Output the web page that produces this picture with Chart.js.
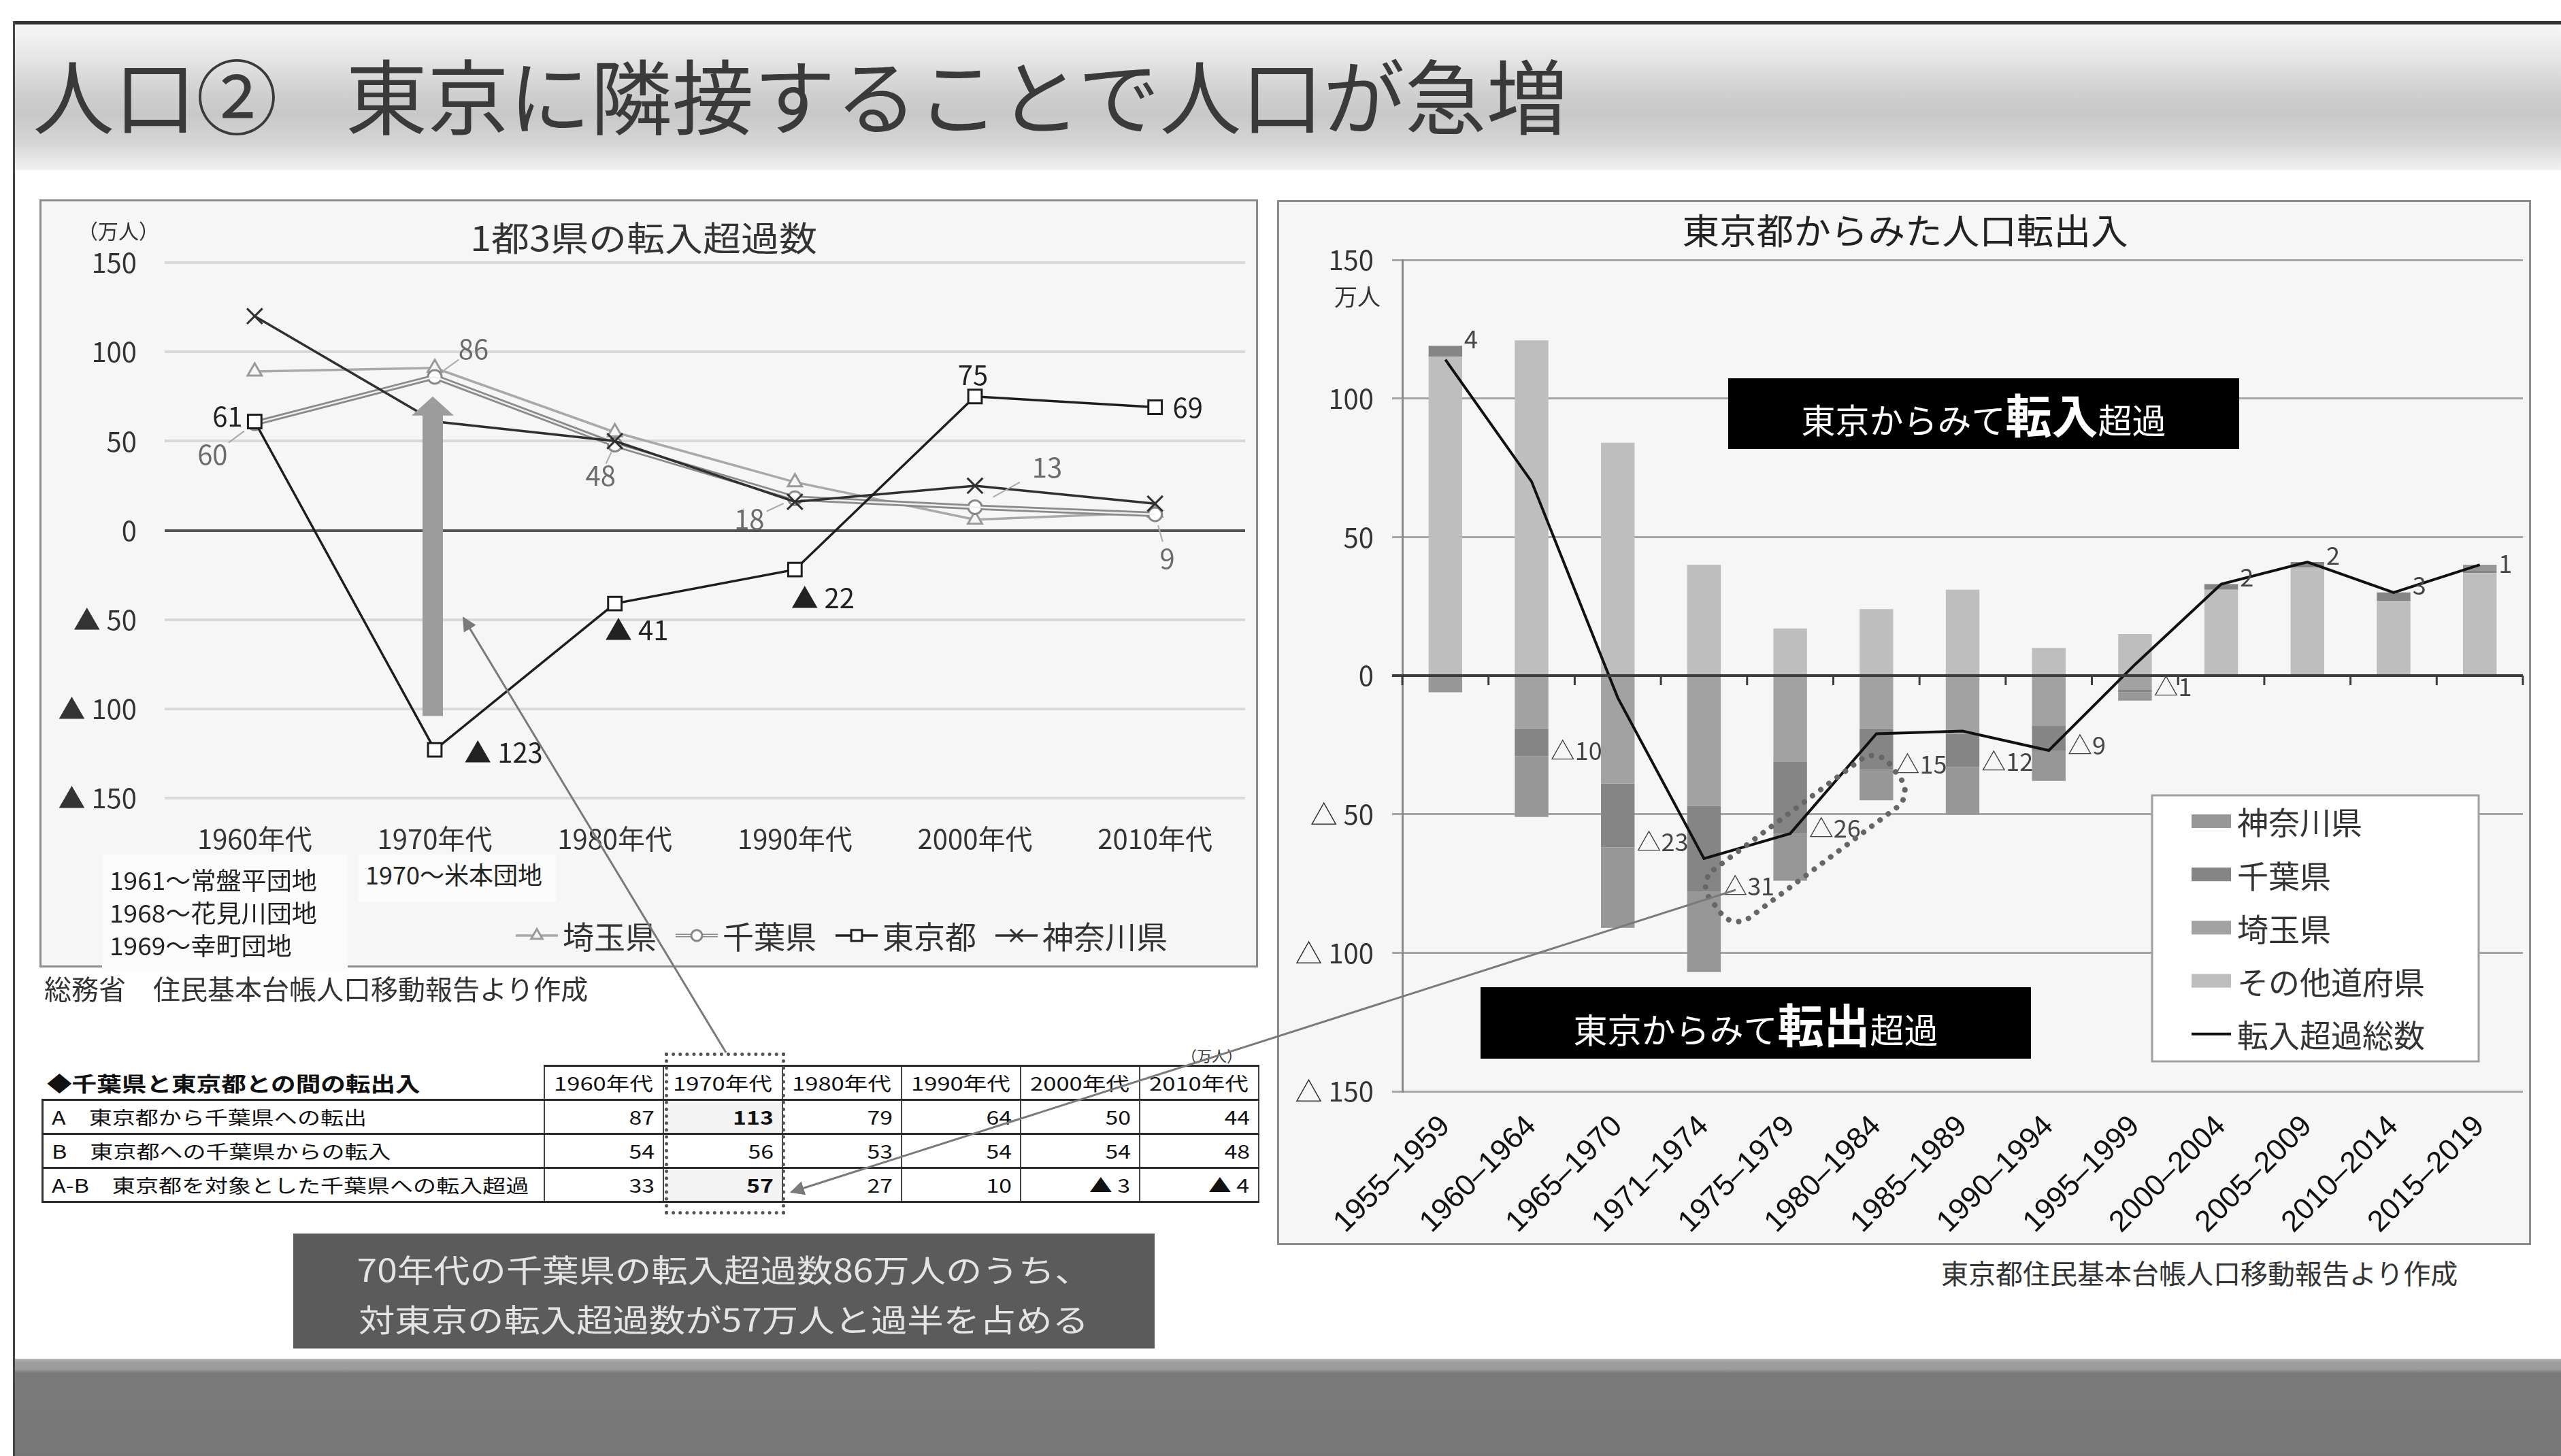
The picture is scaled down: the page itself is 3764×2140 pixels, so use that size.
<!DOCTYPE html>
<html lang="ja">
<head>
<meta charset="utf-8">
<title>人口② 東京に隣接することで人口が急増</title>
<script src="https://cdn.jsdelivr.net/npm/chart.js@4.4.1/dist/chart.umd.min.js"></script>
<style>
  html, body { margin: 0; padding: 0; background: #fff; }
  body { position: relative; width: 3764px; height: 2140px; overflow: hidden;
         font-family: 'Noto Sans CJK JP', sans-serif; color: #333; }
  .abs { position: absolute; white-space: nowrap; }
  .topline { left: 20px; top: 31px; width: 3744px; height: 5px; background: #333; }
  .header { left: 22px; top: 36px; width: 3742px; height: 214px;
            background: linear-gradient(to bottom, #f7f7f7 0%, #e6e6e6 22%, #cfcfcf 48%, #c8c8c8 62%, #d6d6d6 82%, #f2f2f2 100%); }
  .vline { left: 19px; top: 31px; width: 3px; height: 2109px; background: #444; }
  .footer { left: 22px; top: 1997px; width: 3742px; height: 143px;
            background: linear-gradient(to bottom, #b8b8b8 0px, #9e9e9e 5px, #9c9c9c 15px, #7a7a7a 21px, #777 100%); }
  .title { left: 48px; top: 67px; font-size: 120px; line-height: 140px; font-weight: 400; color: #3a3a3a; }
  .panel { background: #f6f6f6; }
  .panel canvas { position: absolute; left: 0; top: 0; }
  .frame { box-sizing: border-box; border: 3px solid #8c8c8c; pointer-events: none; }
  .sx { display: inline-block; }
  .note { background: #fbfbfb; font-size: 36px; line-height: 48px; color: #222; }
  .blackbox { background: #000; color: #fff; text-align: center; }
  .blackbox b { font-size: 68px; font-weight: 700; }
  .blackbox span { font-size: 50px; }
  #chibaTable { border-collapse: collapse; table-layout: fixed; background: #fff; }
  #chibaTable td { height: 47px; padding: 0 12px; font-size: 27px; color: #111; overflow: visible; white-space: nowrap; }
  #chibaTable td.num { text-align: right; border-left: 2px solid #444; border-right: 2px solid #444; }
  #chibaTable td.num .sx { transform: scaleX(1.25); transform-origin: right center; }
  #chibaTable td.lab { border-left: 3px solid #333; }
  #chibaTable td.lab .sx { transform: scaleX(1.26); transform-origin: left center; }
  #chibaTable tr td { border-bottom: 3px solid #2a2a2a; }
  #chibaTable tr.head td.num { border-top: 3px solid #2a2a2a; text-align: center; }
  #chibaTable tr.head td.num .sx { transform: scaleX(1.28); transform-origin: center center; }
  #chibaTable tr.head td.cap { border-left: none; font-weight: 700; font-size: 30px; padding-left: 6px; }
  #chibaTable tr.head td.cap .sx { transform: scaleX(1.22); transform-origin: left center; }
  #chibaTable td.hl { background: #f3f3f3; font-weight: 700; }
  .callout { background: #5b5b5b; color: #e4e4e4; font-size: 46px; line-height: 73px; text-align: center; }
  .callout .sx { transform: scaleX(1.16); }
</style>
</head>
<body>

<div class="abs topline"></div>
<div class="abs header"></div>
<div class="abs title"><span>人口②</span><span style="margin-left:100px">東京に隣接することで人口が急増</span></div>

<!-- 左：1都3県の転入超過数 -->
<div class="abs panel" style="left:58px;top:293px;width:1791px;height:1129px">
  <canvas id="leftChart" width="1791" height="1129"></canvas>
</div>
<div class="abs frame" style="left:58px;top:293px;width:1791px;height:1129px"></div>
<div class="abs" style="left:946px;top:317px;font-size:50px;line-height:60px;transform:translateX(-50%) scaleX(1.12)">1都3県の転入超過数</div>
<div class="abs" style="left:114px;top:320px;font-size:30px;line-height:36px">（万人）</div>
<div class="abs note" style="left:150px;top:1256px;width:361px;height:172px">
  <div style="padding:12px 0 0 11px"><span class="sx" style="transform:scaleX(1.03);transform-origin:left center">1961～常盤平団地<br>1968～花見川団地<br>1969～幸町団地</span></div>
</div>
<div class="abs note" style="left:526px;top:1256px;width:292px;height:69px">
  <div style="padding:4px 0 0 11px">1970～米本団地</div>
</div>
<div class="abs" style="left:65px;top:1428px;font-size:40px;line-height:48px">総務省　住民基本台帳人口移動報告より作成</div>

<!-- 千葉県と東京都との間の転出入 -->
<div class="abs" style="left:1737px;top:1537px;font-size:22px;line-height:26px">（万人）</div>
<table id="chibaTable" class="abs" style="left:61px;top:1565px;width:1787px"></table>
<div class="abs" style="left:977px;top:1547px;width:177px;height:238px;box-sizing:border-box;border:5px dotted #555"></div>

<div class="abs callout" style="left:431px;top:1813px;width:1266px;height:169px">
  <div style="padding-top:15px"><span class="sx">70年代の千葉県の転入超過数86万人のうち、</span><br><span class="sx">対東京の転入超過数が57万人と過半を占める</span></div>
</div>

<!-- 右：東京都からみた人口転出入 -->
<div class="abs panel" style="left:1877px;top:294px;width:1843px;height:1536px">
  <canvas id="rightChart" width="1843" height="1536"></canvas>
</div>
<div class="abs frame" style="left:1877px;top:294px;width:1843px;height:1536px"></div>
<div class="abs" style="left:2800px;top:307px;font-size:52px;line-height:60px;color:#222;transform:translateX(-50%) scaleX(1.05)">東京都からみた人口転出入</div>
<div class="abs" style="left:1961px;top:415px;font-size:34px;line-height:40px">万人</div>
<div class="abs blackbox" style="left:2540px;top:556px;width:751px;height:104px;line-height:104px"><span>東京からみて</span><b>転入</b><span>超過</span></div>
<div class="abs blackbox" style="left:2176px;top:1451px;width:809px;height:105px;line-height:105px"><span>東京からみて</span><b>転出</b><span>超過</span></div>
<div class="abs" style="left:2853px;top:1846px;font-size:40px;line-height:48px">東京都住民基本台帳人口移動報告より作成</div>

<div class="abs footer"></div>
<div class="abs vline"></div>

<svg class="abs" style="left:0;top:0;pointer-events:none" width="3764" height="2140">
  <defs>
    <marker id="ah" viewBox="0 0 10 10" refX="9" refY="5" markerWidth="7" markerHeight="7" orient="auto">
      <path d="M0,0 L10,5 L0,10 z" fill="#7a7a7a"/>
    </marker>
  </defs>
  <line x1="1067" y1="1547" x2="681" y2="908" stroke="#7a7a7a" stroke-width="3" marker-end="url(#ah)"/>
  <line x1="2551" y1="1308" x2="1163" y2="1752" stroke="#7a7a7a" stroke-width="3" marker-end="url(#ah)"/>
</svg>

<script>
// 1都3県の転入超過数（万人、年代別）
const DECADES = ['1960年代', '1970年代', '1980年代', '1990年代', '2000年代', '2010年代'];
const SAITAMA = [89, 91, 55, 27, 6, 10];
const CHIBA = [60, 86, 48, 18, 13, 9];
const TOKYO = [61, -123, -41, -22, 75, 69];
const KANAGAWA = [120, 61, 50, 16, 25, 15];

// 千葉県と東京都との間の転出入（万人）
const OUT_TO_CHIBA = [87, 113, 79, 64, 50, 44];
const IN_FROM_CHIBA = [54, 56, 53, 54, 54, 48];
const NET_TO_CHIBA = [33, 57, 27, 10, -3, -4];
const ROW_LABELS = ['A　東京都から千葉県への転出', 'B　東京都への千葉県からの転入', 'A-B　東京都を対象とした千葉県への転入超過'];

// 東京都からみた転入超過（万人、5年ごと）
const PERIODS = ['1955–1959', '1960–1964', '1965–1970', '1971–1974', '1975–1979', '1980–1984', '1985–1989',
                 '1990–1994', '1995–1999', '2000–2004', '2005–2009', '2010–2014', '2015–2019'];
const NET_OTHER = [115, 121, 84, 40, 17, 24, 31, 10, 15, 31, 39, 27, 37];
const NET_SAITAMA = [0, -19, -39, -47, -31, -19, -21, -18, -5, 0, 0, 0, 0];
const NET_CHIBA = [4, -10, -23, -31, -26, -15, -12, -9, -1, 2, 2, 3, 1];
const NET_KANAGAWA = [-6, -22, -29, -29, -17, -11, -17, -11, -3, 0, 0, 0, 2];
const NET_TOTAL = [114, 70, -8, -66, -57, -21, -20, -27, 4, 33, 41, 30, 40];

// ラベル位置（点からのずれ px）
const TOKYO_LABEL_POS = [[-40, -8], [101, 4], [32, 39], [41, 42], [-3, -32], [48, 0]];
const CHIBA_LABEL_POS = [[-62, 46], [57, -41], [-21, 45], [-67, 31], [106, -59], [18, 65]];
const ARROW_RANGE = [-104, 75];          // 70年代の太矢印（値）
const HIGHLIGHT = [[3.41, -76.6], [4.94, -41]]; // 点線の囲み（カテゴリ位置, 値）

const FONT = "'Noto Sans CJK JP', sans-serif";
Chart.defaults.font.family = FONT;
Chart.defaults.color = '#333';

const neg = mark => v => (v < 0 ? mark + ' ' + (-v) : String(v));

// 表
function buildTable() {
  const fmt = v => (v < 0 ? '▲ ' + (-v) : v);
  const rows = [OUT_TO_CHIBA, IN_FROM_CHIBA, NET_TO_CHIBA];
  let html = '<colgroup><col style="width:737px">' + DECADES.map(() => '<col style="width:175px">').join('') + '</colgroup>';
  html += '<tr class="head"><td class="cap"><span class="sx">◆千葉県と東京都との間の転出入</span></td>' +
          DECADES.map(d => `<td class="num"><span class="sx">${d}</span></td>`).join('') + '</tr>';
  rows.forEach((vals, r) => {
    html += `<tr><td class="lab"><span class="sx">${ROW_LABELS[r]}</span></td>` +
            vals.map((v, i) => `<td class="num${i === 1 && r !== 1 ? ' hl' : ''}"><span class="sx">${fmt(v)}</span></td>`).join('') + '</tr>';
  });
  document.getElementById('chibaTable').innerHTML = html;
}

function strokeLine(ctx, x1, y1, x2, y2, color, w) {
  ctx.strokeStyle = color;
  ctx.lineWidth = w;
  ctx.beginPath();
  ctx.moveTo(x1, y1);
  ctx.lineTo(x2, y2);
  ctx.stroke();
}

// 左グラフの矢印・データラベル・凡例
const leftExtras = {
  id: 'leftExtras',
  afterDatasetsDraw(chart) {
    const { ctx, scales: { x, y } } = chart;
    ctx.save();

    // 1970年代の太い矢印
    const ax = x.getPixelForValue(1) - 3;
    const top = y.getPixelForValue(ARROW_RANGE[1]);
    const bot = y.getPixelForValue(ARROW_RANGE[0]);
    ctx.fillStyle = '#9c9c9c';
    ctx.fillRect(ax - 15, top + 27, 30, bot - top - 27);
    ctx.beginPath();
    ctx.moveTo(ax - 31, top + 28);
    ctx.lineTo(ax, top);
    ctx.lineTo(ax + 31, top + 28);
    ctx.closePath();
    ctx.fill();

    // データラベル
    ctx.font = '40px ' + FONT;
    ctx.textAlign = 'center';
    ctx.textBaseline = 'middle';
    CHIBA.forEach((v, i) => {
      const px = x.getPixelForValue(i), py = y.getPixelForValue(v);
      const [dx, dy] = CHIBA_LABEL_POS[i];
      strokeLine(ctx, px + dx * 0.62, py + dy * 0.62, px + dx * 0.25, py + dy * 0.25, '#aaa', 2);
      ctx.fillStyle = '#6c6c6c';
      ctx.fillText(String(v), px + dx, py + dy);
    });
    TOKYO.forEach((v, i) => {
      const px = x.getPixelForValue(i), py = y.getPixelForValue(v);
      const [dx, dy] = TOKYO_LABEL_POS[i];
      ctx.fillStyle = '#222';
      ctx.fillText(neg('▲')(v), px + dx, py + dy);
    });

    // 凡例（線＋マーカー）
    const order = ['埼玉県', '千葉県', '東京都', '神奈川県'];
    const ly = 1082;
    let lx = 700;
    ctx.font = '46px ' + FONT;
    ctx.textAlign = 'left';
    order.forEach(name => {
      const ds = chart.data.datasets.find(d => d.label === name && d.pointRadius > 0);
      strokeLine(ctx, lx, ly, lx + 62, ly, ds.borderColor, Math.min(ds.borderWidth, 5));
      if (name === '千葉県') strokeLine(ctx, lx, ly, lx + 62, ly, '#efefef', 2);
      ctx.fillStyle = ds.pointBackgroundColor || ds.borderColor;
      ctx.strokeStyle = ds.pointBorderColor;
      ctx.lineWidth = ds.pointBorderWidth;
      Chart.helpers.drawPoint(ctx, { pointStyle: ds.pointStyle, radius: ds.pointRadius * 0.8, borderWidth: ds.pointBorderWidth, rotation: 0 }, lx + 31, ly);
      ctx.fillStyle = '#333';
      ctx.fillText(name, lx + 69, ly + 2);
      lx += 69 + ctx.measureText(name).width + 28;
    });
    ctx.restore();
  }
};

// 右グラフの0線・目盛・千葉県ラベル・囲み・凡例
const rightExtras = {
  id: 'rightExtras',
  afterDatasetsDraw(chart) {
    const { ctx, scales: { x, y } } = chart;
    ctx.save();
    const y0 = y.getPixelForValue(0);
    strokeLine(ctx, x.left - 15, y0, x.right, y0, '#3c3c3c', 4);
    const step = x.width / PERIODS.length;
    for (let i = 0; i <= PERIODS.length; i++) {
      strokeLine(ctx, x.left + i * step, y0, x.left + i * step, y0 + 14, '#3c3c3c', 3);
    }

    // 千葉県の値
    const chibaIdx = chart.data.datasets.findIndex(d => d.label === '千葉県');
    ctx.font = '36px ' + FONT;
    ctx.fillStyle = '#444';
    ctx.textAlign = 'left';
    ctx.textBaseline = 'middle';
    chart.getDatasetMeta(chibaIdx).data.forEach((bar, i) => {
      const v = NET_CHIBA[i];
      const { x: bx, y: by, width } = bar.getProps(['x', 'y', 'width'], true);
      ctx.fillText(neg('△')(v).replace(' ', ''), bx + width / 2 + 3, v < 0 ? by - 8 : by - 10);
    });

    // 点線の囲み
    const ax = x.getPixelForValue(HIGHLIGHT[0][0]), ay = y.getPixelForValue(HIGHLIGHT[0][1]);
    const bx = x.getPixelForValue(HIGHLIGHT[1][0]), by = y.getPixelForValue(HIGHLIGHT[1][1]);
    const len = Math.hypot(bx - ax, by - ay), h = 44;
    ctx.translate(ax, ay);
    ctx.rotate(Math.atan2(by - ay, bx - ax));
    ctx.setLineDash([0.1, 15]);
    ctx.lineCap = 'round';
    ctx.lineWidth = 8;
    ctx.strokeStyle = '#666';
    ctx.beginPath();
    ctx.roundRect(-h, -h, len + 2 * h, 2 * h, 30);
    ctx.stroke();
    ctx.restore();

    // 凡例
    ctx.save();
    ctx.fillStyle = '#fff';
    ctx.fillRect(1286, 875, 480, 391);
    ctx.strokeStyle = '#a0a0a0';
    ctx.lineWidth = 3;
    ctx.strokeRect(1286, 875, 480, 391);
    ctx.font = '46px ' + FONT;
    ctx.textAlign = 'left';
    ctx.textBaseline = 'middle';
    const items = ['神奈川県', '千葉県', '埼玉県', 'その他道府県', '転入超過総数'];
    items.forEach((name, k) => {
      const ds = chart.data.datasets.find(d => d.label === name);
      const ly = 913 + k * 78.2;
      if (ds.type === 'line') {
        strokeLine(ctx, 1344, ly, 1402, ly, ds.borderColor, 4);
      } else {
        ctx.fillStyle = ds.backgroundColor;
        ctx.fillRect(1344, ly - 10, 58, 20);
      }
      ctx.fillStyle = '#333';
      ctx.fillText(name, 1411, ly + 2);
    });
    ctx.restore();
  }
};

document.addEventListener('DOMContentLoaded', function () {
  buildTable();

  // 1. 左：1都3県の転入超過数
  new Chart(document.getElementById('leftChart'), {
    type: 'line',
    data: {
      labels: DECADES,
      datasets: [
        { label: '東京都', data: TOKYO, borderColor: '#1e1e1e', borderWidth: 3.5,
          pointStyle: 'rect', pointRadius: 14, pointBackgroundColor: '#fff', pointBorderColor: '#1e1e1e', pointBorderWidth: 3 },
        { label: '神奈川県', data: KANAGAWA, borderColor: '#303030', borderWidth: 3.5,
          pointStyle: 'crossRot', pointRadius: 16, pointBackgroundColor: '#303030', pointBorderColor: '#303030', pointBorderWidth: 3 },
        { label: '千葉県', data: CHIBA, borderColor: '#efefef', borderWidth: 2.5, pointRadius: 0 },
        { label: '千葉県', data: CHIBA, borderColor: '#8a8a8a', borderWidth: 8,
          pointStyle: 'circle', pointRadius: 10, pointBackgroundColor: '#fff', pointBorderColor: '#888', pointBorderWidth: 3 },
        { label: '埼玉県', data: SAITAMA, borderColor: '#a9a9a9', borderWidth: 3.5,
          pointStyle: 'triangle', pointRadius: 12, pointBackgroundColor: '#f6f6f6', pointBorderColor: '#9a9a9a', pointBorderWidth: 3 }
      ]
    },
    options: {
      responsive: false,
      animation: false,
      devicePixelRatio: 1,
      layout: { padding: { top: 93, right: 9, left: 0, bottom: 0 } },
      plugins: { legend: { display: false }, tooltip: { enabled: false } },
      scales: {
        x: {
          offset: true,
          grid: { display: false },
          border: { display: false },
          ticks: { font: { size: 40 }, color: '#333', padding: 28, maxRotation: 0 },
          afterFit: s => { s.height = 249; }
        },
        y: {
          min: -150, max: 150,
          ticks: { stepSize: 50, font: { size: 40 }, color: '#333', padding: 41, callback: neg('▲') },
          grid: { drawTicks: false, color: c => (c.tick.value === 0 ? '#555' : '#d9d9d9'), lineWidth: 4 },
          border: { display: false },
          afterFit: s => { s.width = 184; }
        }
      }
    },
    plugins: [leftExtras]
  });

  // 2. 右：東京都からみた人口転出入
  const bar = (label, data, color) => ({
    type: 'bar', label, data, backgroundColor: color, stack: 'areas', order: 1,
    barPercentage: 0.39, categoryPercentage: 1
  });
  new Chart(document.getElementById('rightChart'), {
    data: {
      labels: PERIODS,
      datasets: [
        bar('その他道府県', NET_OTHER, '#bebebe'),
        bar('埼玉県', NET_SAITAMA, '#a2a2a2'),
        bar('千葉県', NET_CHIBA, '#858585'),
        bar('神奈川県', NET_KANAGAWA, '#979797'),
        { type: 'line', label: '転入超過総数', data: NET_TOTAL, stack: 'total', order: 0,
          borderColor: '#111', borderWidth: 4, pointRadius: 0, tension: 0 }
      ]
    },
    options: {
      responsive: false,
      animation: false,
      devicePixelRatio: 1,
      layout: { padding: { top: 88, right: 12, left: 0, bottom: 0 } },
      plugins: { legend: { display: false }, tooltip: { enabled: false } },
      scales: {
        x: {
          stacked: true,
          grid: { display: false },
          border: { display: false },
          ticks: { font: { size: 44, family: "'Liberation Sans', sans-serif" }, color: '#111',
                   minRotation: 45, maxRotation: 45, autoSkip: false, padding: 18 },
          afterFit: s => { s.height = 226; }
        },
        y: {
          stacked: true,
          min: -150, max: 150,
          ticks: { stepSize: 50, font: { size: 40 }, color: '#333', padding: 27, callback: neg('△') },
          grid: { tickLength: 15, color: c => (c.tick.value === 0 ? '#3c3c3c' : '#a6a6a6'), lineWidth: 3 },
          border: { display: true, color: '#8a8a8a', width: 3 },
          afterFit: s => { s.width = 184; }
        }
      }
    },
    plugins: [rightExtras]
  });
});
</script>
</body>
</html>
